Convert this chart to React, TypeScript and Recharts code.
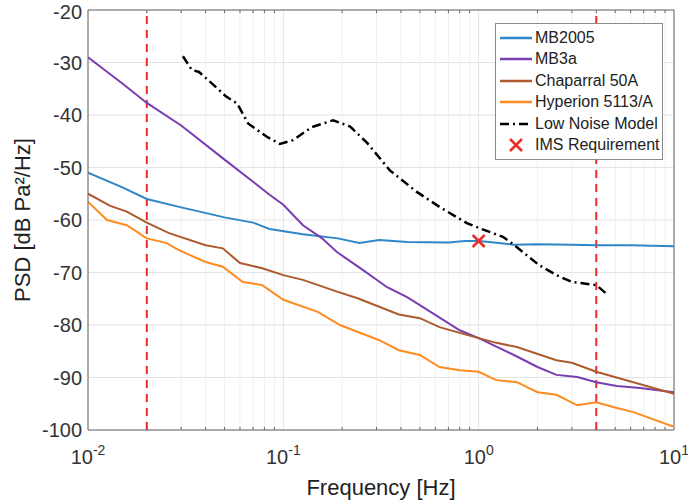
import {
	ComposedChart,
	Line,
	Scatter,
	XAxis,
	YAxis,
	CartesianGrid,
	ReferenceLine,
	Legend,
} from 'recharts'

// frequency [Hz] / PSD [dB Pa^2/Hz] pairs
const mb2005Freq = [0.01, 0.015, 0.02, 0.03, 0.05, 0.07, 0.085, 0.126, 0.19, 0.245, 0.31, 0.43, 0.7, 0.85, 1.0, 1.2, 1.5, 2, 3, 4, 6, 10]
const mb2005Psd = [-51, -53.8, -56, -57.6, -59.5, -60.5, -61.7, -62.7, -63.5, -64.4, -63.8, -64.2, -64.3, -64.0, -64.0, -64.3, -64.7, -64.6, -64.7, -64.8, -64.8, -65]

const mb3aFreq = [0.01, 0.015, 0.02, 0.03, 0.05, 0.07, 0.085, 0.1, 0.126, 0.158, 0.188, 0.255, 0.34, 0.43, 0.5, 0.8, 1.0, 1.57, 2.0, 2.5, 3.2, 4.0, 5.1, 6.7, 10]
const mb3aPsd = [-29, -34, -37.7, -42, -48.5, -52.7, -55.2, -57.1, -61, -63.5, -66.1, -69.5, -72.8, -74.7, -76.2, -81, -82.5, -86, -88, -89.5, -89.9, -90.9, -91.6, -92, -92.8]

const chapFreq = [0.01, 0.013, 0.0158, 0.02, 0.026, 0.04, 0.049, 0.06, 0.078, 0.1, 0.126, 0.19, 0.24, 0.39, 0.5, 0.63, 0.8, 1.0, 1.23, 1.57, 2.5, 3.0, 4.0, 10]
const chapPsd = [-55, -57.3, -58.4, -60.5, -62.5, -64.8, -65.4, -68.2, -69.2, -70.5, -71.4, -73.7, -74.9, -78, -78.7, -80.4, -81.5, -82.5, -83.4, -84.2, -86.7, -87.2, -88.9, -93.1]

const hypFreq = [0.01, 0.0125, 0.0158, 0.02, 0.0253, 0.029, 0.04, 0.049, 0.062, 0.078, 0.1, 0.15, 0.195, 0.31, 0.39, 0.5, 0.63, 0.8, 1.0, 1.23, 1.57, 2.0, 2.5, 3.2, 4.0, 5.1, 6.2, 10]
const hypPsd = [-56.5, -60, -61, -63.5, -64.4, -65.7, -68, -68.9, -71.8, -72.4, -75.2, -77.5, -80, -82.9, -84.8, -85.7, -88, -88.6, -88.9, -90.5, -90.9, -92.8, -93.3, -95.3, -94.7, -95.8, -96.6, -99.4]

const lnmFreq = [0.0306, 0.034, 0.037, 0.044, 0.051, 0.058, 0.066, 0.082, 0.096, 0.112, 0.14, 0.18, 0.22, 0.27, 0.35, 0.48, 0.63, 0.87, 1.0, 1.33, 1.5, 2.04, 2.5, 3.0, 4.0, 4.6]
const lnmPsd = [-28.8, -31.4, -31.8, -34.3, -36.5, -37.8, -41.6, -44.1, -45.5, -44.8, -42.3, -41, -42.2, -45.4, -50.5, -54.6, -57.5, -60.6, -61.5, -63.2, -64.6, -68.6, -70.5, -71.8, -72.4, -74.3]

const imsFreq = [1]
const imsPsd = [-64]

const bandLimits = [0.02, 4]

const xTicks = [0.01, 0.1, 1, 10]
const xExponents = ['-2', '-1', '0', '1']
const xMinor = [0.02, 0.03, 0.04, 0.05, 0.06, 0.07, 0.08, 0.09, 0.2, 0.3, 0.4, 0.5, 0.6, 0.7, 0.8, 0.9, 2, 3, 4, 5, 6, 7, 8, 9]
const yTicks = [-100, -90, -80, -70, -60, -50, -40, -30, -20]

const zip = (f: number[], p: number[]) => f.map((x, i) => ({ f: x, psd: p[i] }))

const series = [
	{ name: 'MB2005', data: zip(mb2005Freq, mb2005Psd), color: '#2f86c8', dash: undefined },
	{ name: 'MB3a', data: zip(mb3aFreq, mb3aPsd), color: '#7a3db0', dash: undefined },
	{ name: 'Chaparral 50A', data: zip(chapFreq, chapPsd), color: '#ad5a2c', dash: undefined },
	{ name: 'Hyperion 5113/A', data: zip(hypFreq, hypPsd), color: '#ff8a22', dash: undefined },
	{ name: 'Low Noise Model', data: zip(lnmFreq, lnmPsd), color: '#000000', dash: '9 4 2 4' },
]

const FONT = '"Liberation Sans", Arial, sans-serif'
const RED = '#ee2b2b'
const AXIS = '#666'

const XTick = ({ x, y, payload }: any) => {
	const idx = xTicks.indexOf(payload.value)
	return (
		<text x={x} y={y + 26} textAnchor='middle' fontFamily={FONT} fontSize={20} fill='#333'>
			10
			<tspan dy={-9} fontSize={14}>
				{xExponents[idx]}
			</tspan>
		</text>
	)
}

const Cross = ({ cx, cy }: any) => (
	<g stroke={RED} strokeWidth={2.5}>
		<line x1={cx - 6} y1={cy - 6} x2={cx + 6} y2={cy + 6} />
		<line x1={cx - 6} y1={cy + 6} x2={cx + 6} y2={cy - 6} />
	</g>
)

const LegendBox = () => (
	<div
		style={{
			background: '#fff',
			border: '1px solid #8a8a8a',
			width: 166,
			padding: '3px 0 3px 0',
			fontFamily: FONT,
			fontSize: 16,
			color: '#222',
		}}
	>
		{series.map(s => (
			<div key={s.name} style={{ display: 'flex', alignItems: 'center', height: 21.5 }}>
				<svg width={36} height={10} style={{ marginLeft: 3 }}>
					<line x1={1} y1={5} x2={33} y2={5} stroke={s.color} strokeWidth={2.5} strokeDasharray={s.dash} />
				</svg>
				<span>{s.name}</span>
			</div>
		))}
		<div style={{ display: 'flex', alignItems: 'center', height: 21.5 }}>
			<svg width={36} height={14} style={{ marginLeft: 3 }}>
				<Cross cx={17} cy={7} />
			</svg>
			<span>IMS Requirement</span>
		</div>
	</div>
)

export default function App() {
	return (
		<div style={{ position: 'absolute', left: 0, top: 0, width: 688, height: 503, background: '#fff' }}>
			<ComposedChart width={688} height={503} margin={{ top: 10, right: 14, bottom: 0, left: 0 }}>
				<CartesianGrid stroke='#e3e3e3' strokeWidth={1} />
				{xMinor.map(v => (
					<ReferenceLine key={'m' + v} x={v} stroke='#f0f0f0' strokeWidth={1} />
				))}
				{xMinor.map(v => (
					<ReferenceLine key={'tt' + v} segment={[{ x: v, y: -20 }, { x: v, y: -20.6 }]} stroke={AXIS} />
				))}
				{xMinor.map(v => (
					<ReferenceLine key={'tb' + v} segment={[{ x: v, y: -100 }, { x: v, y: -99.4 }]} stroke={AXIS} />
				))}
				<XAxis
					dataKey='f'
					type='number'
					scale='log'
					domain={[0.01, 10]}
					ticks={xTicks}
					allowDataOverflow
					height={73}
					tick={<XTick />}
					tickLine={false}
					axisLine={{ stroke: AXIS }}
					label={{ value: 'Frequency [Hz]', position: 'insideBottom', offset: 8, fontSize: 22, fontFamily: FONT, fill: '#222' }}
				/>
				<YAxis
					dataKey='psd'
					type='number'
					domain={[-100, -20]}
					ticks={yTicks}
					width={88}
					tickLine={false}
					axisLine={{ stroke: AXIS }}
					tick={{ fontSize: 20, fontFamily: FONT, fill: '#333' }}
					tickMargin={0}
					label={{
						value: 'PSD [dB Pa²/Hz]',
						angle: -90,
						position: 'insideLeft',
						offset: 22,
						style: { textAnchor: 'middle' },
						fontSize: 22,
						fontFamily: FONT,
						fill: '#222',
					}}
				/>
				<ReferenceLine y={-20} stroke={AXIS} />
				<ReferenceLine x={10} stroke={AXIS} />
				{bandLimits.map(v => (
					<ReferenceLine key={'b' + v} x={v} stroke={RED} strokeWidth={2} strokeDasharray='8 6' />
				))}
				{series.map(s => (
					<Line
						key={s.name}
						data={s.data}
						dataKey='psd'
						name={s.name}
						stroke={s.color}
						strokeWidth={s.dash ? 2.5 : 2}
						strokeDasharray={s.dash}
						dot={false}
						isAnimationActive={false}
					/>
				))}
				<Scatter
					data={zip(imsFreq, imsPsd)}
					dataKey='psd'
					name='IMS Requirement'
					shape={<Cross />}
					isAnimationActive={false}
				/>
				<Legend
					layout='horizontal'
					verticalAlign='middle'
					align='center'
					content={<LegendBox />}
					wrapperStyle={{ left: 495, top: 23, width: 168, margin: 0 }}
				/>
			</ComposedChart>
		</div>
	)
}
